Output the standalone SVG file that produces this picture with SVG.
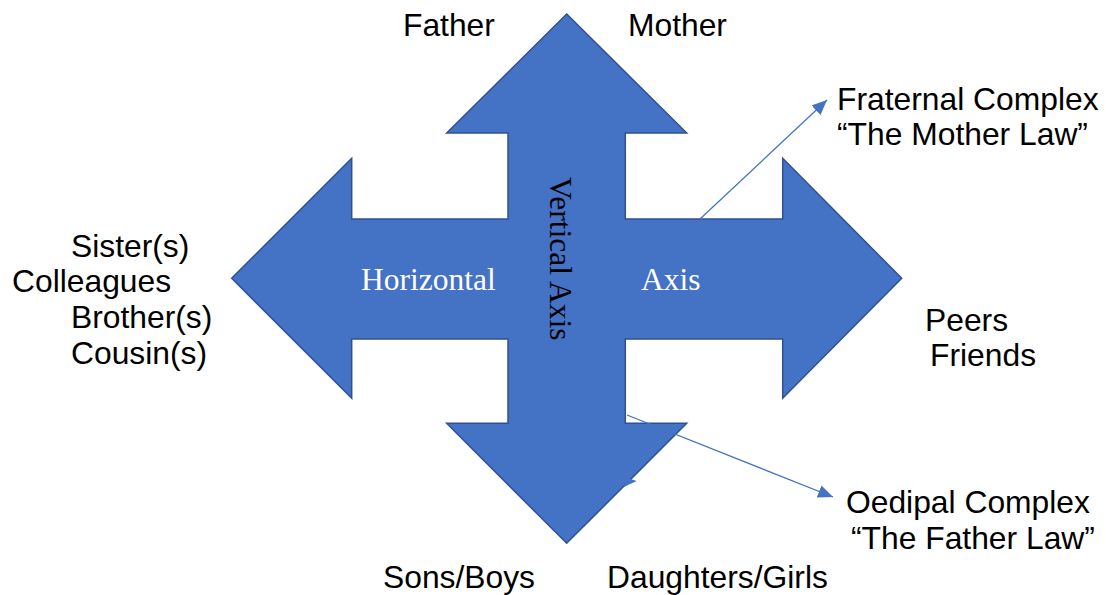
<svg xmlns="http://www.w3.org/2000/svg" width="1106" height="595" viewBox="0 0 1106 595">
  <style>
    .label { font-family: "Liberation Sans", Arial, sans-serif; font-size: 31.8px; fill: #000; }
    .axis { font-family: "Liberation Serif", "Times New Roman", serif; font-size: 31.5px; }
    .shape { fill: #4472C4; stroke: #2F528F; stroke-width: 1.5; stroke-linejoin: miter; }
    .link { stroke: #4472C4; stroke-width: 1.3; fill: none; }
  </style>
  <defs>
    <marker id="arrow" markerUnits="userSpaceOnUse" markerWidth="16" markerHeight="13" refX="15" refY="6.5" orient="auto">
      <path d="M0,0 L15,6.5 L0,13 z" fill="#4472C4"/>
    </marker>
  </defs>
  <rect width="1106" height="595" fill="#fff"/>

  <!-- four-way arrow -->
  <g id="quad-arrow">
    <polygon class="shape" points="566.7,14 686.7,133 625.3,133 625.3,219 782.7,219 782.7,158.3 901.7,278.3 782.7,398.3 782.7,339 625.3,339 625.3,423.3 686.7,423.3 566.7,543.3 446.7,423.3 508,423.3 508,339 351.7,339 351.7,398.3 231.7,278.3 351.7,158.3 351.7,219 508,219 508,133 446.7,133"/>
    <polygon fill="#4472C4" points="628.3,478.3 636.7,481 623.3,487.3"/>
    <text class="axis" x="361" y="290" fill="#fff">Horizontal</text>
    <text class="axis" x="641" y="290" fill="#fff">Axis</text>
    <text class="axis" fill="#000" transform="translate(550,177) rotate(90)">Vertical Axis</text>
  </g>

  <!-- connectors -->
  <g id="connectors">
    <line class="link" x1="700" y1="219" x2="827" y2="100" marker-end="url(#arrow)"/>
    <line class="link" x1="627" y1="415" x2="833" y2="497" marker-end="url(#arrow)"/>
  </g>

  <g id="top-labels">
    <text class="label" x="403" y="36">Father</text>
    <text class="label" x="628" y="36">Mother</text>
  </g>

  <g id="left-labels">
    <text class="label" x="71" y="257">Sister(s)</text>
    <text class="label" x="12" y="292">Colleagues</text>
    <text class="label" x="71" y="328">Brother(s)</text>
    <text class="label" x="71" y="364">Cousin(s)</text>
  </g>

  <g id="right-labels">
    <text class="label" x="925" y="331">Peers</text>
    <text class="label" x="930" y="366">Friends</text>
  </g>

  <g id="fraternal">
    <text class="label" x="837" y="110">Fraternal Complex</text>
    <text class="label" x="837" y="145">“The Mother Law”</text>
  </g>

  <g id="oedipal">
    <text class="label" x="846" y="513">Oedipal Complex</text>
    <text class="label" x="851" y="549">“The Father Law”</text>
  </g>

  <g id="bottom-labels">
    <text class="label" x="383" y="588">Sons/Boys</text>
    <text class="label" x="607" y="588">Daughters/Girls</text>
  </g>
</svg>
